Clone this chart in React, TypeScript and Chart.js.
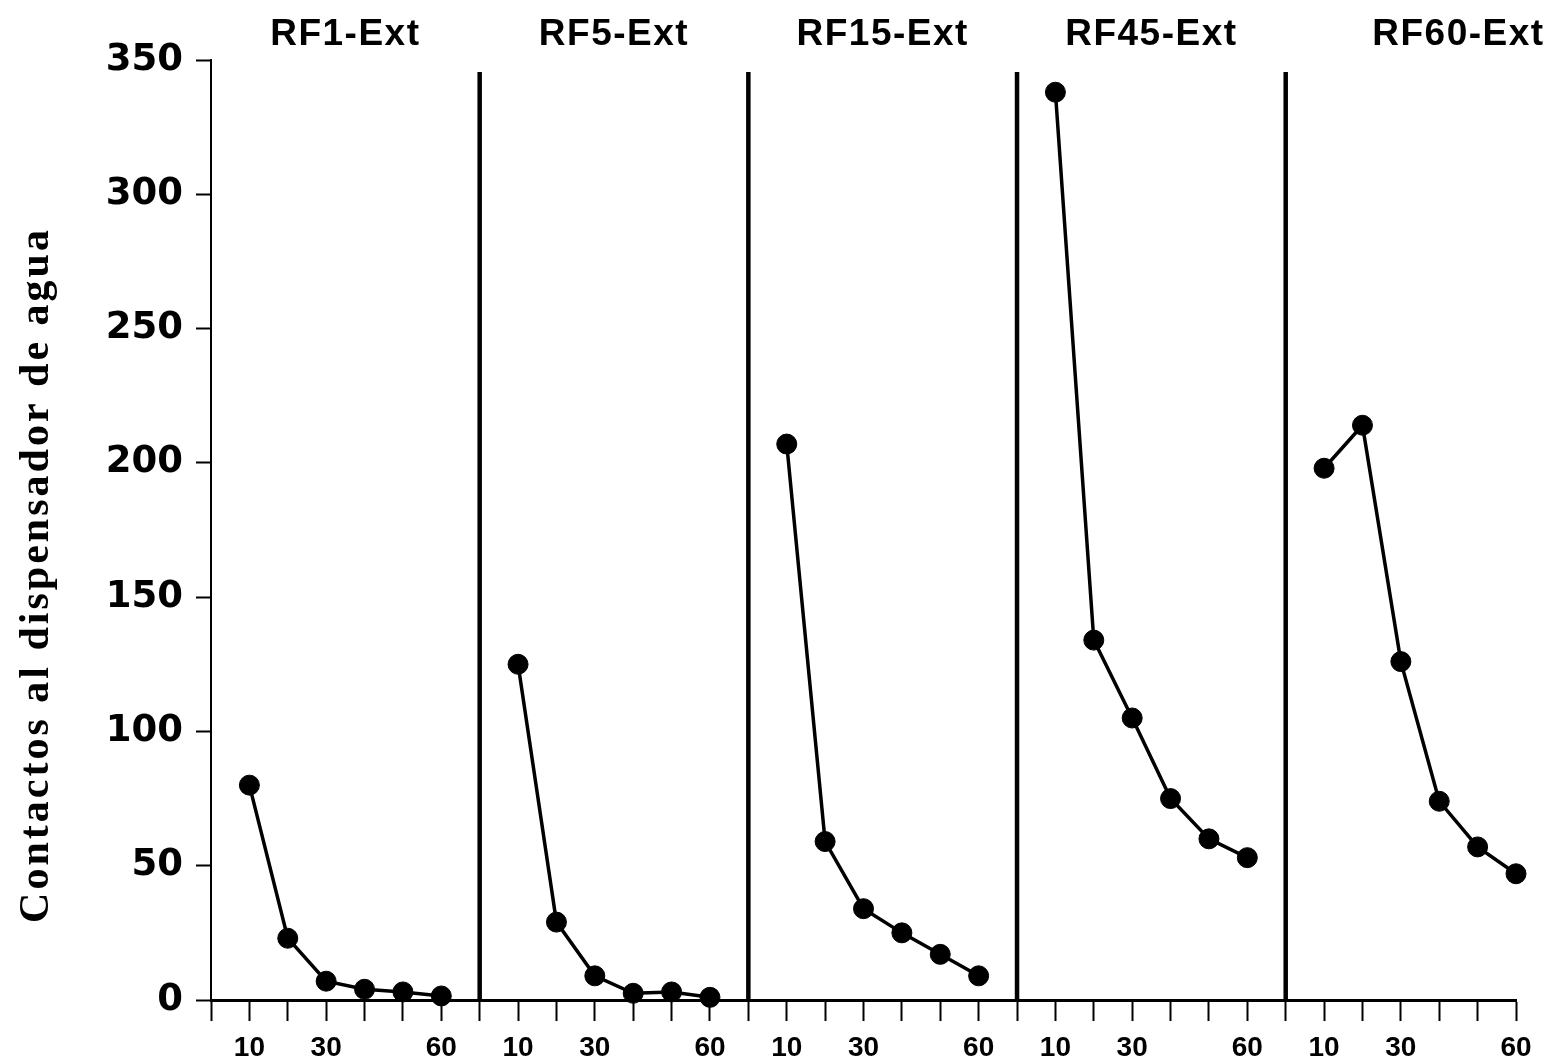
import React, { useEffect, useRef } from "react";
import { Chart, registerables } from "chart.js";

Chart.register(...registerables);

const panelTitles = ["RF1-Ext", "RF5-Ext", "RF15-Ext", "RF45-Ext", "RF60-Ext"];
const panelOffsets = [0, 70, 140, 210, 280];
const titleCenters = [35, 105, 175, 245, 325];
const separators = [70, 140, 210, 280];
const sessions = [10, 20, 30, 40, 50, 60];
const labeledSessions = [10, 30, 60];

const rf1 = [80, 23, 7, 4, 3, 1.5];
const rf5 = [125, 29, 9, 2.5, 3, 1];
const rf15 = [207, 59, 34, 25, 17, 9];
const rf45 = [338, 134, 105, 75, 60, 53];
const rf60 = [198, 214, 126, 74, 57, 47];
const seriesValues = [rf1, rf5, rf15, rf45, rf60];

const yTitle = "Contactos al dispensador de agua";

export default function App() {
  const ref = useRef<HTMLCanvasElement | null>(null);

  useEffect(() => {
    const canvas = ref.current;
    if (!canvas) return;

    const datasets = seriesValues.map((vals, i) => ({
      label: panelTitles[i],
      data: vals.map((v, j) => ({ x: panelOffsets[i] + sessions[j], y: v })),
      showLine: true,
      clip: false,
      borderColor: "#000",
      backgroundColor: "#000",
      borderWidth: 3.5,
      pointRadius: 10,
      pointBackgroundColor: "#000",
      pointBorderColor: "#000",
      pointBorderWidth: 1,
      tension: 0,
    }));

    const decor = {
      id: "decor",
      afterDraw(chart: any) {
        const { ctx, scales } = chart;
        const xs = scales.x;
        const ys = scales.y;
        ctx.save();
        // panel separators
        ctx.strokeStyle = "#000";
        ctx.lineWidth = 4.5;
        separators.forEach((s) => {
          const px = xs.getPixelForValue(s);
          ctx.beginPath();
          ctx.moveTo(px, ys.getPixelForValue(0));
          ctx.lineTo(px, ys.getPixelForValue(345.5));
          ctx.stroke();
        });
        // panel titles
        ctx.fillStyle = "#000";
        ctx.font = 'bold 37px "Liberation Sans", Arial, sans-serif';
        (ctx as any).letterSpacing = "1.5px";
        ctx.textAlign = "center";
        ctx.textBaseline = "alphabetic";
        panelTitles.forEach((t, i) => {
          ctx.fillText(t, xs.getPixelForValue(titleCenters[i]), 45);
        });
        // y axis title
        (ctx as any).letterSpacing = "3px";
        ctx.font = 'bold 42px "Liberation Serif", "Times New Roman", serif';
        ctx.translate(37, 575);
        ctx.rotate(-Math.PI / 2);
        ctx.textBaseline = "middle";
        ctx.fillText(yTitle, 0, 0);
        ctx.restore();
      },
    };

    const chart = new Chart(canvas, {
      type: "scatter",
      data: { datasets },
      options: {
        animation: false,
        responsive: false,
        maintainAspectRatio: false,
        layout: { padding: { left: 0, top: 60, right: 48, bottom: 0 } },
        plugins: {
          legend: { display: false },
          tooltip: { enabled: false },
          title: { display: false },
        },
        scales: {
          x: {
            type: "linear",
            min: 0,
            max: 340,
            afterFit(scale: any) {
              scale.height = 61;
            },
            border: { display: true, color: "#000", width: 3 },
            grid: {
              drawOnChartArea: false,
              drawTicks: true,
              tickLength: 21,
              tickWidth: 2,
              tickColor: "#000",
            },
            ticks: {
              stepSize: 10,
              autoSkip: false,
              maxRotation: 0,
              padding: 10,
              color: "#000",
              font: { family: '"Liberation Sans", Arial, sans-serif', size: 28, weight: "bold" },
              callback: (v: any) => {
                const n = Number(v);
                if (n <= 0) return "";
                const local = n - Math.floor((n - 1) / 70) * 70;
                return labeledSessions.includes(local) && local !== 70 ? String(local) : "";
              },
            },
          },
          y: {
            type: "linear",
            min: 0,
            max: 350,
            afterFit(scale: any) {
              scale.width = 211;
            },
            border: { display: true, color: "#000", width: 2 },
            grid: {
              drawOnChartArea: false,
              drawTicks: true,
              tickLength: 15,
              tickWidth: 2,
              tickColor: "#000",
            },
            ticks: {
              stepSize: 50,
              padding: 13,
              color: "#000",
              font: { family: '"DejaVu Sans", sans-serif', size: 37, weight: "bold" },
            },
          },
        },
      },
      plugins: [decor],
    } as any);

    return () => chart.destroy();
  }, []);

  return (
    <div
      style={{
        position: "fixed",
        left: 0,
        top: 0,
        width: 1564,
        height: 1061,
        background: "#fff",
      }}
    >
      <canvas ref={ref} width={1564} height={1061} style={{ display: "block" }} />
    </div>
  );
}
